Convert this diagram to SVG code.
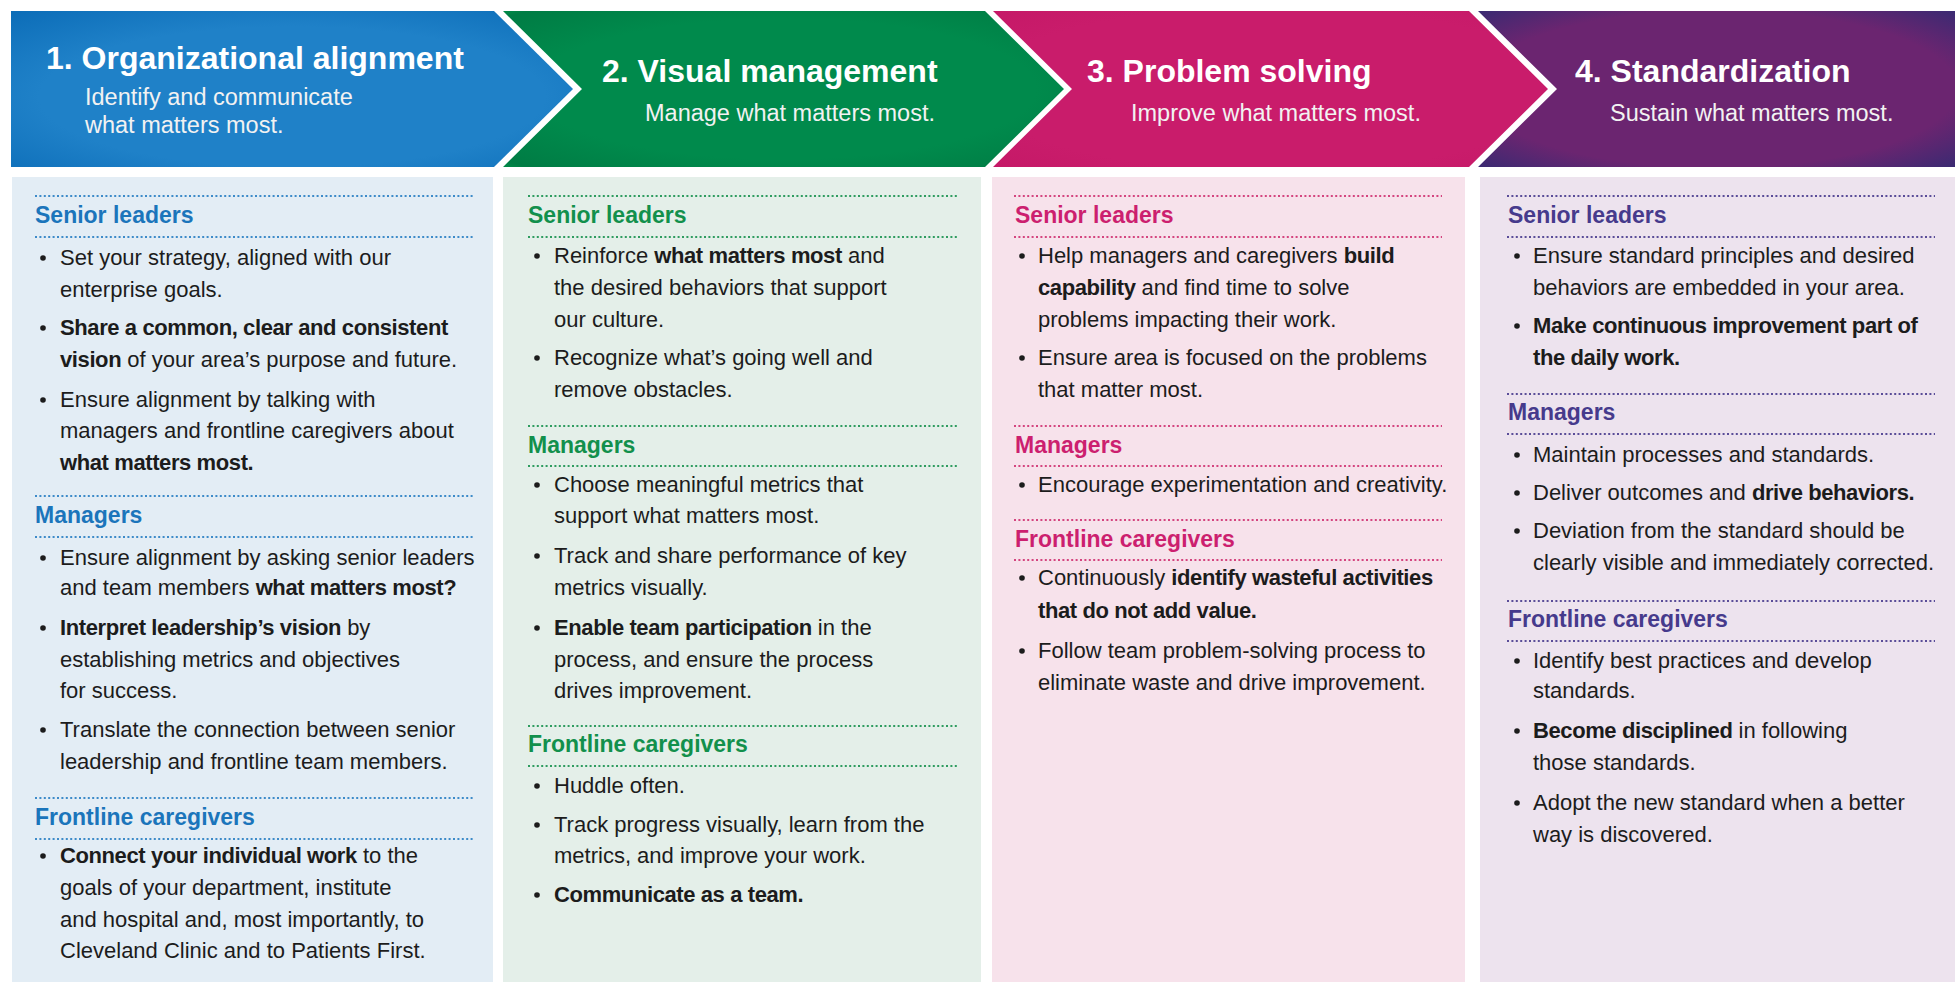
<svg xmlns="http://www.w3.org/2000/svg" width="1955" height="984" viewBox="0 0 1955 984">
<defs>
<radialGradient id="gBlue" cx="0.5" cy="0.55" r="0.75">
<stop offset="0.6" stop-color="#1f81c8"/><stop offset="1" stop-color="#0b6cb7"/>
</radialGradient>
<radialGradient id="gGreen" cx="0.5" cy="0.5" r="0.75">
<stop offset="0.6" stop-color="#008a4c"/><stop offset="0.9" stop-color="#007c44"/><stop offset="1" stop-color="#00a04c"/>
</radialGradient>
<radialGradient id="gPink" cx="0.5" cy="0.5" r="0.75">
<stop offset="0.7" stop-color="#c91c6b"/><stop offset="1" stop-color="#c41866"/>
</radialGradient>
<radialGradient id="gPurple" cx="0.5" cy="0.5" r="0.72">
<stop offset="0.7" stop-color="#6b2570"/><stop offset="1" stop-color="#372a72"/>
</radialGradient>
<style>
text{font-family:"Liberation Sans",Arial,sans-serif}
.title{font-size:32px;font-weight:bold;fill:#ffffff}
.sub{font-size:23.5px;fill:#f2f2f2}
.t{font-size:22px;fill:#1c1c1c}
.b{font-weight:bold;letter-spacing:-0.4px}
.hd{font-size:23px;font-weight:bold}
.dl{stroke-width:2;stroke-dasharray:2 2.4;fill:none}
.c1{fill:#1b75bb}.c2{fill:#12904c}.c3{fill:#cc1f6f}.c4{fill:#463a8c}
.s1{stroke:#3d8bc9}.s2{stroke:#2f9c60}.s3{stroke:#d4457f}.s4{stroke:#5a4d98}
</style>
</defs>
<rect x="0" y="0" width="1955" height="984" fill="#ffffff"/>

<g id="header1">
<path d="M11,11 H494 L573,89 L494,167 H11 Z" fill="url(#gBlue)"/>
<text class="title" x="46" y="69">1. Organizational alignment</text>
<text class="sub" x="85" y="105">Identify and communicate</text>
<text class="sub" x="85" y="133">what matters most.</text>
</g>
<g id="header2">
<path d="M503,11 H985 L1064,89 L985,167 H503 L582,89 Z" fill="url(#gGreen)"/>
<text class="title" x="602" y="82">2. Visual management</text>
<text class="sub" x="645" y="121">Manage what matters most.</text>
</g>
<g id="header3">
<path d="M993,11 H1469 L1548,89 L1469,167 H993 L1072,89 Z" fill="url(#gPink)"/>
<text class="title" x="1087" y="82">3. Problem solving</text>
<text class="sub" x="1131" y="121">Improve what matters most.</text>
</g>
<g id="header4">
<path d="M1478,11 H1955 V167 H1478 L1557,89 Z" fill="url(#gPurple)"/>
<text class="title" x="1575" y="82">4. Standardization</text>
<text class="sub" x="1610" y="121">Sustain what matters most.</text>
</g>

<g id="panel1">
<rect x="12" y="177" width="481" height="805" fill="#e3edf5"/>
<line class="dl s1" x1="35" y1="196" x2="475" y2="196"/>
<text class="hd c1" x="35" y="223">Senior leaders</text>
<line class="dl s1" x1="35" y1="237" x2="475" y2="237"/>
<g fill="#1c1c1c"><circle cx="43" cy="258" r="2.8"/><circle cx="43" cy="328" r="2.8"/><circle cx="43" cy="400" r="2.8"/><circle cx="43" cy="558" r="2.8"/><circle cx="43" cy="628" r="2.8"/><circle cx="43" cy="730" r="2.8"/><circle cx="43" cy="856" r="2.8"/></g>
<text class="t" x="60" y="265">Set your strategy, aligned with our</text>
<text class="t" x="60" y="297">enterprise goals.</text>
<text class="t b" x="60" y="335">Share a common, clear and consistent</text>
<text class="t" x="60" y="367"><tspan class="b">vision</tspan> of your area’s purpose and future.</text>
<text class="t" x="60" y="407">Ensure alignment by talking with</text>
<text class="t" x="60" y="438">managers and frontline caregivers about</text>
<text class="t b" x="60" y="470">what matters most.</text>
<line class="dl s1" x1="35" y1="496" x2="475" y2="496"/>
<text class="hd c1" x="35" y="523">Managers</text>
<line class="dl s1" x1="35" y1="537" x2="475" y2="537"/>
<text class="t" x="60" y="565">Ensure alignment by asking senior leaders</text>
<text class="t" x="60" y="595">and team members <tspan class="b">what matters most?</tspan></text>
<text class="t" x="60" y="635"><tspan class="b">Interpret leadership’s vision</tspan> by</text>
<text class="t" x="60" y="667">establishing metrics and objectives</text>
<text class="t" x="60" y="698">for success.</text>
<text class="t" x="60" y="737">Translate the connection between senior</text>
<text class="t" x="60" y="769">leadership and frontline team members.</text>
<line class="dl s1" x1="35" y1="798" x2="475" y2="798"/>
<text class="hd c1" x="35" y="825">Frontline caregivers</text>
<line class="dl s1" x1="35" y1="839" x2="475" y2="839"/>
<text class="t" x="60" y="863"><tspan class="b">Connect your individual work</tspan> to the</text>
<text class="t" x="60" y="895">goals of your department, institute</text>
<text class="t" x="60" y="927">and hospital and, most importantly, to</text>
<text class="t" x="60" y="958">Cleveland Clinic and to Patients First.</text>
</g>

<g id="panel2">
<rect x="503" y="177" width="478" height="805" fill="#e4efe9"/>
<line class="dl s2" x1="528" y1="196" x2="957" y2="196"/>
<text class="hd c2" x="528" y="223">Senior leaders</text>
<line class="dl s2" x1="528" y1="237" x2="957" y2="237"/>
<g fill="#1c1c1c"><circle cx="537" cy="256" r="2.8"/><circle cx="537" cy="358" r="2.8"/><circle cx="537" cy="485" r="2.8"/><circle cx="537" cy="556" r="2.8"/><circle cx="537" cy="628" r="2.8"/><circle cx="537" cy="786" r="2.8"/><circle cx="537" cy="825" r="2.8"/><circle cx="537" cy="895" r="2.8"/></g>
<text class="t" x="554" y="263">Reinforce <tspan class="b">what matters most</tspan> and</text>
<text class="t" x="554" y="295">the desired behaviors that support</text>
<text class="t" x="554" y="327">our culture.</text>
<text class="t" x="554" y="365">Recognize what’s going well and</text>
<text class="t" x="554" y="397">remove obstacles.</text>
<line class="dl s2" x1="528" y1="426" x2="957" y2="426"/>
<text class="hd c2" x="528" y="453">Managers</text>
<line class="dl s2" x1="528" y1="466" x2="957" y2="466"/>
<text class="t" x="554" y="492">Choose meaningful metrics that</text>
<text class="t" x="554" y="523">support what matters most.</text>
<text class="t" x="554" y="563">Track and share performance of key</text>
<text class="t" x="554" y="595">metrics visually.</text>
<text class="t" x="554" y="635"><tspan class="b">Enable team participation</tspan> in the</text>
<text class="t" x="554" y="667">process, and ensure the process</text>
<text class="t" x="554" y="698">drives improvement.</text>
<line class="dl s2" x1="528" y1="726" x2="957" y2="726"/>
<text class="hd c2" x="528" y="752">Frontline caregivers</text>
<line class="dl s2" x1="528" y1="766" x2="957" y2="766"/>
<text class="t" x="554" y="793">Huddle often.</text>
<text class="t" x="554" y="832">Track progress visually, learn from the</text>
<text class="t" x="554" y="863">metrics, and improve your work.</text>
<text class="t b" x="554" y="902">Communicate as a team.</text>
</g>

<g id="panel3">
<rect x="992" y="177" width="473" height="805" fill="#f7e2eb"/>
<line class="dl s3" x1="1014" y1="196" x2="1442" y2="196"/>
<text class="hd c3" x="1015" y="223">Senior leaders</text>
<line class="dl s3" x1="1014" y1="237" x2="1442" y2="237"/>
<g fill="#1c1c1c"><circle cx="1022" cy="256" r="2.8"/><circle cx="1022" cy="358" r="2.8"/><circle cx="1022" cy="485" r="2.8"/><circle cx="1022" cy="578" r="2.8"/><circle cx="1022" cy="651" r="2.8"/></g>
<text class="t" x="1038" y="263">Help managers and caregivers <tspan class="b">build</tspan></text>
<text class="t" x="1038" y="295"><tspan class="b">capability</tspan> and find time to solve</text>
<text class="t" x="1038" y="327">problems impacting their work.</text>
<text class="t" x="1038" y="365">Ensure area is focused on the problems</text>
<text class="t" x="1038" y="397">that matter most.</text>
<line class="dl s3" x1="1014" y1="426" x2="1442" y2="426"/>
<text class="hd c3" x="1015" y="453">Managers</text>
<line class="dl s3" x1="1014" y1="466" x2="1442" y2="466"/>
<text class="t" x="1038" y="492">Encourage experimentation and creativity.</text>
<line class="dl s3" x1="1014" y1="520" x2="1442" y2="520"/>
<text class="hd c3" x="1015" y="547">Frontline caregivers</text>
<line class="dl s3" x1="1014" y1="560" x2="1442" y2="560"/>
<text class="t" x="1038" y="585">Continuously <tspan class="b">identify wasteful activities</tspan></text>
<text class="t b" x="1038" y="618">that do not add value.</text>
<text class="t" x="1038" y="658">Follow team problem-solving process to</text>
<text class="t" x="1038" y="690">eliminate waste and drive improvement.</text>
</g>

<g id="panel4">
<rect x="1480" y="177" width="475" height="805" fill="#ede3ee"/>
<line class="dl s4" x1="1507" y1="196" x2="1935" y2="196"/>
<text class="hd c4" x="1508" y="223">Senior leaders</text>
<line class="dl s4" x1="1507" y1="237" x2="1935" y2="237"/>
<g fill="#1c1c1c"><circle cx="1517" cy="256" r="2.8"/><circle cx="1517" cy="326" r="2.8"/><circle cx="1517" cy="455" r="2.8"/><circle cx="1517" cy="493" r="2.8"/><circle cx="1517" cy="531" r="2.8"/><circle cx="1517" cy="661" r="2.8"/><circle cx="1517" cy="731" r="2.8"/><circle cx="1517" cy="803" r="2.8"/></g>
<text class="t" x="1533" y="263">Ensure standard principles and desired</text>
<text class="t" x="1533" y="295">behaviors are embedded in your area.</text>
<text class="t b" x="1533" y="333">Make continuous improvement part of</text>
<text class="t b" x="1533" y="365">the daily work.</text>
<line class="dl s4" x1="1507" y1="394" x2="1935" y2="394"/>
<text class="hd c4" x="1508" y="420">Managers</text>
<line class="dl s4" x1="1507" y1="434" x2="1935" y2="434"/>
<text class="t" x="1533" y="462">Maintain processes and standards.</text>
<text class="t" x="1533" y="500">Deliver outcomes and <tspan class="b">drive behaviors.</tspan></text>
<text class="t" x="1533" y="538">Deviation from the standard should be</text>
<text class="t" x="1533" y="570">clearly visible and immediately corrected.</text>
<line class="dl s4" x1="1507" y1="601" x2="1935" y2="601"/>
<text class="hd c4" x="1508" y="627">Frontline caregivers</text>
<line class="dl s4" x1="1507" y1="641" x2="1935" y2="641"/>
<text class="t" x="1533" y="668">Identify best practices and develop</text>
<text class="t" x="1533" y="698">standards.</text>
<text class="t" x="1533" y="738"><tspan class="b">Become disciplined</tspan> in following</text>
<text class="t" x="1533" y="770">those standards.</text>
<text class="t" x="1533" y="810">Adopt the new standard when a better</text>
<text class="t" x="1533" y="842">way is discovered.</text>
</g>

<g id="connectors"></g>
</svg>
